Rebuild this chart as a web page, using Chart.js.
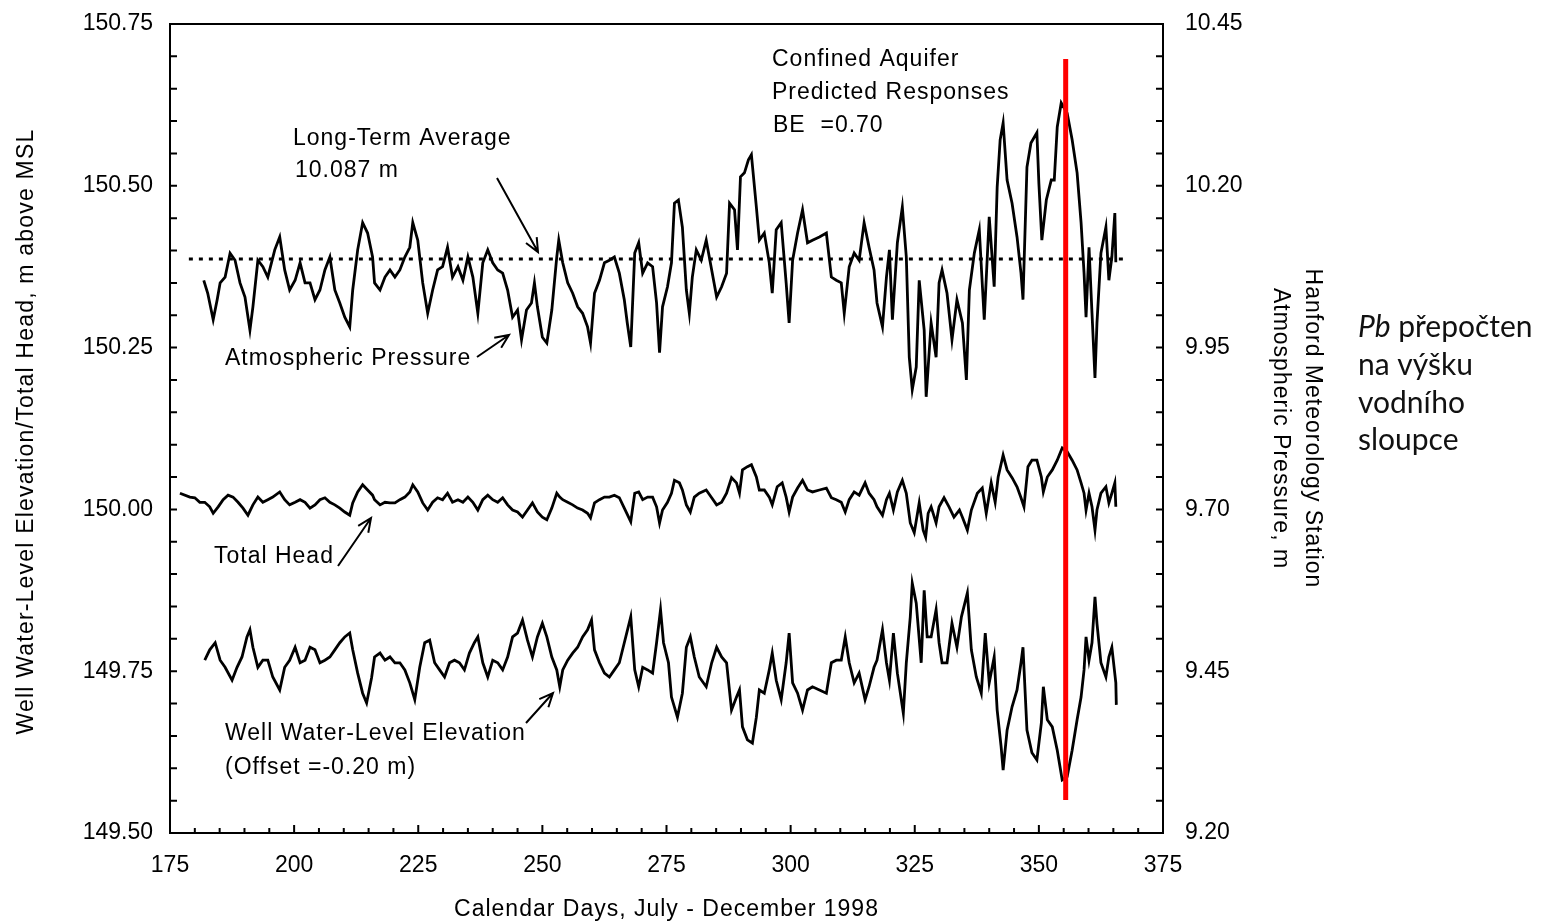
<!DOCTYPE html>
<html>
<head>
<meta charset="utf-8">
<script src="https://cdn.jsdelivr.net/npm/chart.js@4.4.0/dist/chart.umd.min.js"></script>
<style>
  html, body { margin: 0; padding: 0; background: #fff; }
  #wrap { width: 1547px; height: 923px; position: relative; }
</style>
</head>
<body>
<div id="wrap"><canvas id="wellChart"></canvas></div>
<script>
// Hanford atmospheric pressure, m of water (right axis)
var pressureDays = [181.8,182.6,183.7,184.5,185.1,186.1,187.1,188.1,189.1,190.1,191.1,191.7,192.7,193.7,194.7,196.1,197.1,198.1,199.1,200.2,
  201.2,202.2,203.2,204.2,205.2,206.2,207.2,208.2,209.2,210.2,211.2,211.8,212.8,213.8,214.8,215.8,216.2,217.3,218.3,219.3,
  220.3,221.3,222.3,223.3,223.9,224.9,225.9,226.9,227.9,228.9,229.9,230.9,231.9,233.0,234.0,235.0,236.0,237.0,238.0,239.0,
  240.0,241.0,242.0,243.0,244.0,245.0,245.8,246.8,247.8,248.4,249.0,250.0,250.9,251.9,252.9,253.3,254.1,255.1,256.1,257.1,
  258.1,259.1,259.7,260.5,261.5,262.5,263.5,264.5,265.5,266.5,267.1,267.8,268.6,269.4,270.2,271.2,272.2,273.0,273.6,274.2,
  275.2,276.0,276.6,277.4,278.2,279.0,279.6,280.2,281.0,282.0,283.0,284.1,285.1,286.1,287.1,287.7,288.7,289.3,289.9,290.7,
  291.5,292.1,293.1,293.7,294.7,295.7,296.3,297.1,298.1,299.1,299.7,300.4,301.4,302.4,303.4,304.4,305.8,307.2,308.2,309.2,
  310.2,310.8,311.8,312.8,313.8,314.8,315.8,316.8,317.4,318.5,319.3,319.9,320.5,321.5,322.5,323.3,323.9,324.5,325.3,325.9,
  326.9,327.3,328.3,329.3,329.9,330.5,331.5,332.5,333.5,334.6,335.4,336.0,337.0,338.0,339.0,340.0,341.0,341.6,342.2,342.8,
  343.6,344.6,345.6,346.4,346.8,347.6,348.4,349.6,350.0,350.6,351.5,352.5,353.1,353.7,354.5,355.7,356.7,357.7,358.5,359.1,
  359.5,360.1,360.7,361.3,361.7,362.5,363.5,364.1,364.7,365.3,365.5];
var pressureValues = [10.054,10.034,9.993,10.024,10.050,10.059,10.096,10.085,10.050,10.028,9.977,10.013,10.085,10.075,10.059,10.101,10.121,10.070,10.039,10.054,
  10.081,10.050,10.050,10.024,10.039,10.070,10.090,10.039,10.019,9.997,9.982,10.039,10.101,10.143,10.127,10.090,10.050,10.039,10.059,10.070,
  10.059,10.070,10.090,10.105,10.143,10.116,10.050,10.003,10.039,10.070,10.075,10.105,10.059,10.075,10.054,10.090,10.059,10.003,10.081,10.101,
  10.081,10.070,10.065,10.039,9.997,10.008,9.962,10.008,10.019,10.050,10.013,9.966,9.957,10.008,10.090,10.116,10.081,10.050,10.034,10.013,
  10.003,9.982,9.957,10.034,10.054,10.081,10.085,10.090,10.065,10.024,9.988,9.951,10.096,10.112,10.065,10.081,10.075,10.019,9.942,10.013,
  10.044,10.081,10.173,10.178,10.136,10.039,10.003,10.059,10.101,10.085,10.116,10.070,10.028,10.044,10.065,10.173,10.163,10.101,10.214,10.220,
  10.240,10.248,10.167,10.116,10.127,10.081,10.034,10.132,10.143,10.050,9.988,10.085,10.127,10.163,10.112,10.116,10.121,10.127,10.059,10.054,
  10.050,10.003,10.075,10.096,10.085,10.143,10.105,10.070,10.019,9.982,10.059,10.101,9.993,10.112,10.167,10.090,9.935,9.885,9.920,10.054,
  9.977,9.874,9.988,9.935,10.050,10.070,10.034,9.962,10.024,9.988,9.900,10.039,10.096,10.132,9.993,10.152,10.044,10.198,10.271,10.297,
  10.209,10.173,10.121,10.065,10.024,10.229,10.266,10.282,10.204,10.116,10.178,10.209,10.209,10.291,10.328,10.312,10.271,10.220,10.143,10.065,
  9.997,10.105,10.003,9.903,9.988,10.096,10.136,10.054,10.090,10.158,10.082];

// total head, m above MSL (left axis)
var headDays = [177.0,179.0,180.0,181.0,182.0,183.0,183.7,184.7,185.7,186.7,187.7,188.7,189.7,190.7,191.7,192.7,193.7,194.7,195.7,197.1,
  198.1,199.1,200.2,201.2,202.2,203.2,204.2,205.2,206.2,207.2,208.2,209.2,210.2,211.2,211.8,212.8,213.8,214.8,215.8,216.2,
  217.3,218.3,219.3,220.3,221.3,222.3,223.3,223.9,224.9,225.9,226.9,227.9,228.9,229.9,230.9,231.9,233.0,234.0,235.0,236.0,
  237.0,238.0,239.0,240.0,241.0,242.0,243.0,244.0,245.0,246.0,247.0,248.0,249.0,250.0,250.9,251.9,252.9,253.5,254.1,255.1,
  256.1,257.1,258.1,259.1,259.7,260.5,261.5,262.5,263.5,264.5,265.5,266.5,267.8,268.6,269.4,270.2,271.2,272.2,273.0,273.6,
  274.2,275.2,276.0,276.6,277.6,278.2,279.0,279.8,280.6,281.6,283.0,284.1,285.1,286.1,287.1,288.1,289.1,289.7,290.3,291.3,
  292.1,293.1,293.7,294.7,295.7,296.3,297.3,298.3,299.1,299.7,300.4,301.4,302.4,303.4,304.4,305.8,307.2,308.2,309.2,310.2,
  311.0,311.8,312.8,313.8,315.0,315.8,316.8,317.4,318.5,319.3,319.9,320.7,321.5,322.5,323.3,324.1,324.9,325.9,326.7,327.2,
  327.7,328.3,329.3,329.9,330.9,331.9,332.9,334.0,334.6,335.6,336.4,337.6,338.6,339.4,340.4,341.2,341.8,342.8,343.6,344.6,
  345.6,346.4,347.0,347.8,348.6,349.6,350.5,350.9,351.7,352.7,353.7,354.7,355.7,356.7,357.7,358.5,359.1,359.5,360.1,360.7,
  361.3,361.7,362.5,363.5,364.1,364.7,365.3,365.5];
var headValues = [150.025,150.019,150.018,150.011,150.011,150.004,149.994,150.004,150.015,150.022,150.019,150.011,150.002,149.991,150.007,150.019,150.011,150.015,150.019,150.027,
  150.015,150.007,150.011,150.015,150.011,150.002,150.007,150.015,150.018,150.011,150.007,150.002,149.996,149.991,150.010,150.027,150.038,150.030,150.022,150.015,
  150.007,150.011,150.010,150.010,150.015,150.019,150.027,150.038,150.027,150.010,149.999,150.011,150.018,150.015,150.025,150.011,150.015,150.011,150.019,150.011,
  149.999,150.015,150.022,150.015,150.011,150.018,150.007,149.999,149.996,149.988,149.999,150.010,149.996,149.988,149.984,150.002,150.025,150.019,150.015,150.011,
  150.007,150.002,149.999,149.994,149.987,150.010,150.015,150.019,150.019,150.022,150.018,150.002,149.981,150.025,150.027,150.015,150.019,150.019,150.004,149.979,
  149.999,150.011,150.025,150.045,150.041,150.030,150.007,149.996,150.019,150.025,150.030,150.018,150.007,150.011,150.025,150.049,150.041,150.025,150.061,150.066,
  150.069,150.050,150.030,150.030,150.019,150.007,150.035,150.041,150.019,149.996,150.019,150.033,150.045,150.030,150.027,150.030,150.033,150.018,150.015,150.011,
  149.996,150.015,150.027,150.022,150.041,150.025,150.015,150.004,149.991,150.015,150.025,149.999,150.027,150.045,150.025,149.979,149.964,150.010,149.968,149.957,
  149.994,150.004,149.979,150.004,150.018,150.004,149.988,149.999,149.988,149.968,149.999,150.025,150.033,149.994,150.041,150.011,150.050,150.084,150.061,150.049,
  150.035,150.018,150.004,150.066,150.076,150.076,150.050,150.027,150.050,150.061,150.076,150.095,150.089,150.076,150.061,150.041,150.025,149.999,150.025,150.004,
  149.968,149.999,150.025,150.035,150.010,150.025,150.041,150.004];

// well water-level elevation, offset -0.20 m (left axis)
var wellDays = [182.0,183.0,184.1,185.1,186.1,187.5,188.5,189.5,190.5,191.1,191.7,192.7,193.7,194.7,195.7,197.1,198.1,199.1,200.2,201.2,
  202.2,203.2,204.2,205.2,206.2,207.2,208.2,209.2,210.2,211.2,211.8,212.8,213.8,214.6,215.6,216.2,217.3,218.3,219.3,220.3,
  221.3,222.3,223.3,224.3,225.3,226.3,227.3,228.3,229.3,230.3,231.3,232.3,233.3,234.3,235.3,236.3,237.0,238.0,239.0,240.0,
  241.0,242.0,243.0,244.0,245.0,246.0,247.0,248.0,249.0,250.0,250.9,251.9,252.9,253.5,254.1,255.1,256.1,257.1,258.1,259.1,
  259.9,260.5,261.5,262.5,263.5,264.5,265.5,266.5,267.8,268.6,269.4,270.2,271.2,272.2,273.0,273.8,274.4,275.4,276.0,277.2,
  278.2,279.0,279.8,280.6,281.6,283.0,284.1,285.1,286.1,287.1,288.1,289.1,289.7,290.3,291.3,292.3,293.1,293.7,294.7,295.7,
  296.3,297.1,298.1,299.1,299.7,300.4,301.4,302.4,303.4,304.4,305.8,307.2,308.2,309.2,310.2,311.0,311.8,312.8,313.8,315.0,
  315.8,316.8,317.4,318.5,319.3,319.9,320.7,321.5,322.7,323.3,324.1,324.5,325.3,326.3,326.9,327.5,328.3,329.3,329.9,330.5,
  331.5,332.5,333.5,334.4,335.6,336.4,337.4,338.4,339.2,340.0,341.0,341.6,342.4,342.8,343.6,344.6,345.6,346.4,346.8,347.6,
  348.6,349.6,350.5,350.9,351.7,352.7,353.7,354.7,355.7,356.7,357.7,358.5,359.1,359.5,360.1,360.7,361.3,361.7,362.5,363.5,
  364.1,364.7,365.5,365.6];
var wellValues = [149.767,149.783,149.794,149.767,149.756,149.736,149.756,149.772,149.803,149.814,149.787,149.756,149.767,149.767,149.741,149.721,149.756,149.767,149.787,149.763,
  149.767,149.787,149.783,149.763,149.767,149.772,149.783,149.794,149.803,149.809,149.783,149.747,149.716,149.701,149.740,149.772,149.778,149.767,149.772,149.763,
  149.763,149.752,149.732,149.706,149.756,149.794,149.798,149.763,149.752,149.741,149.763,149.767,149.763,149.752,149.778,149.794,149.803,149.763,149.741,149.767,
  149.763,149.752,149.772,149.803,149.809,149.829,149.798,149.772,149.803,149.824,149.803,149.772,149.752,149.726,149.752,149.767,149.778,149.787,149.803,149.814,
  149.829,149.783,149.763,149.747,149.741,149.752,149.763,149.794,149.834,149.752,149.726,149.756,149.752,149.747,149.794,149.845,149.794,149.763,149.710,149.679,
  149.716,149.787,149.803,149.772,149.741,149.726,149.763,149.787,149.772,149.763,149.690,149.710,149.721,149.664,149.644,149.639,149.679,149.721,149.716,149.752,
  149.778,149.736,149.706,149.763,149.809,149.732,149.716,149.690,149.721,149.726,149.721,149.716,149.763,149.767,149.767,149.803,149.763,149.732,149.747,149.706,
  149.726,149.756,149.767,149.814,149.763,149.736,149.809,149.747,149.685,149.763,149.834,149.886,149.855,149.763,149.875,149.803,149.803,149.845,149.794,149.763,
  149.763,149.824,149.787,149.834,149.871,149.783,149.741,149.716,149.809,149.732,149.772,149.690,149.633,149.597,149.659,149.695,149.721,149.763,149.787,149.659,
  149.624,149.613,149.670,149.726,149.675,149.664,149.628,149.582,149.587,149.628,149.675,149.710,149.752,149.803,149.767,149.794,149.865,149.824,149.763,149.741,
  149.772,149.787,149.732,149.698];

// long-term average pressure and the marked day
var averageDays = [178.8, 367.6];
var averagePressure = 10.087;
var markerDay = 355.4;
var markerLevels = [150.696, 149.551];

var xTicks = [175, 200, 225, 250, 275, 300, 325, 350, 375];
var leftTicks = [149.50, 149.75, 150.00, 150.25, 150.50, 150.75];
var rightTicks = [9.20, 9.45, 9.70, 9.95, 10.20, 10.45];

var FONT = '"Liberation Sans", Arial, Helvetica, sans-serif';
Chart.defaults.font.family = FONT;
Chart.defaults.color = '#000';

function pairs(days, vals) {
    return days.map(function (d, i) { return { x: d, y: vals[i] }; });
}

function arrow(ctx, x1, y1, x2, y2) {
    var ang = Math.atan2(y2 - y1, x2 - x1), h = 15;
    ctx.beginPath();
    ctx.moveTo(x1, y1);
    ctx.lineTo(x2, y2);
    ctx.moveTo(x2 - h * Math.cos(ang - 0.42), y2 - h * Math.sin(ang - 0.42));
    ctx.lineTo(x2, y2);
    ctx.lineTo(x2 - h * Math.cos(ang + 0.42), y2 - h * Math.sin(ang + 0.42));
    ctx.stroke();
}

var decor = {
    id: 'decor',
    afterDraw: function (chart) {
        var ctx = chart.ctx, a = chart.chartArea;
        var xs = chart.scales.x, ys = chart.scales.y;
        ctx.save();
        ctx.strokeStyle = '#000';
        ctx.fillStyle = '#000';
        ctx.lineWidth = 2;

        // top of the frame
        ctx.beginPath();
        ctx.moveTo(a.left - 1, a.top);
        ctx.lineTo(a.right + 1, a.top);
        ctx.stroke();

        // inward tick marks
        ctx.beginPath();
        for (var i = 0; i < xTicks.length - 1; i++) {
            for (var k = 0; k < 5; k++) {
                var d = xTicks[i] + k * (xTicks[i + 1] - xTicks[i]) / 5;
                var px = xs.getPixelForValue(d);
                ctx.moveTo(px, a.bottom);
                ctx.lineTo(px, a.bottom - (k === 0 ? 8 : 5));
            }
        }
        for (i = 0; i < leftTicks.length - 1; i++) {
            for (k = 0; k < 5; k++) {
                var v = leftTicks[i] + k * (leftTicks[i + 1] - leftTicks[i]) / 5;
                var py = ys.getPixelForValue(v);
                ctx.moveTo(a.left, py); ctx.lineTo(a.left + 7, py);
                ctx.moveTo(a.right, py); ctx.lineTo(a.right - 7, py);
            }
        }
        ctx.stroke();

        // annotations
        ctx.font = '23px ' + FONT;
        ctx.letterSpacing = '1px';
        ctx.textBaseline = 'middle';
        ctx.textAlign = 'left';
        ctx.fillText('Confined Aquifer', 772, 60);
        ctx.fillText('Predicted Responses', 772, 93);
        ctx.fillText('BE  =0.70', 773, 126);
        ctx.fillText('Long-Term Average', 293, 139);
        ctx.fillText('10.087 m', 295, 171);
        ctx.fillText('Atmospheric Pressure', 225, 359);
        ctx.fillText('Total Head', 214, 557);
        ctx.fillText('Well Water-Level Elevation', 225, 734);
        ctx.fillText('(Offset =-0.20 m)', 225, 768);

        ctx.lineWidth = 2;
        arrow(ctx, 497, 178, 538, 252);
        arrow(ctx, 477, 357, 509, 335);
        arrow(ctx, 338, 566, 371, 518);
        arrow(ctx, 526, 723, 553, 693);

        // axis titles
        ctx.textAlign = 'center';
        ctx.fillText('Calendar Days, July - December 1998', (a.left + a.right) / 2, 910);

        ctx.save();
        ctx.translate(27, (a.top + a.bottom) / 2 + 3);
        ctx.rotate(-Math.PI / 2);
        ctx.letterSpacing = '1.2px';
        ctx.fillText('Well Water-Level Elevation/Total Head, m above MSL', 0, 0);
        ctx.restore();

        ctx.save();
        ctx.translate(1312, (a.top + a.bottom) / 2);
        ctx.rotate(Math.PI / 2);
        ctx.fillText('Hanford Meteorology Station', 0, 0);
        ctx.fillText('Atmospheric Pressure, m', 0, 32);
        ctx.restore();

        // side note
        ctx.letterSpacing = '0px';
        ctx.textAlign = 'left';
        ctx.fillStyle = '#111';
        ctx.font = 'italic 30px Lato, "Open Sans", sans-serif';
        ctx.fillText('Pb', 1358, 327);
        var w = ctx.measureText('Pb').width;
        ctx.font = '30px Lato, "Open Sans", sans-serif';
        ctx.fillText(' přepočten', 1358 + w, 327);
        ctx.fillText('na výšku', 1358, 365);
        ctx.fillText('vodního', 1358, 403);
        ctx.fillText('sloupce', 1358, 440);
        ctx.restore();
    }
};

var lineStyle = { borderColor: '#000', borderWidth: 2.8, pointRadius: 0, tension: 0, fill: false };

function noPadY(s, width) { s.width = width; s.paddingTop = 0; s.paddingBottom = 0; }

new Chart(document.getElementById('wellChart').getContext('2d'), {
    type: 'line',
    data: {
        datasets: [
            { data: [{ x: markerDay, y: markerLevels[0] }, { x: markerDay, y: markerLevels[1] }],
              yAxisID: 'y', borderColor: '#ff0000', borderWidth: 5, pointRadius: 0, borderCapStyle: 'butt' },
            Object.assign({ data: pairs(pressureDays, pressureValues), yAxisID: 'y2' }, lineStyle),
            Object.assign({ data: pairs(headDays, headValues), yAxisID: 'y' }, lineStyle),
            Object.assign({ data: pairs(wellDays, wellValues), yAxisID: 'y' }, lineStyle),
            { data: averageDays.map(function (d) { return { x: d, y: averagePressure }; }),
              yAxisID: 'y2', borderColor: '#000', borderWidth: 3, borderDash: [4, 6], pointRadius: 0 }
        ]
    },
    options: {
        responsive: true,
        maintainAspectRatio: false,
        animation: false,
        events: [],
        layout: { padding: { top: 24, left: 0, right: 0, bottom: 0 } },
        plugins: { legend: { display: false }, tooltip: { enabled: false } },
        scales: {
            x: {
                type: 'linear', min: 175, max: 375,
                grid: { display: false, drawTicks: false },
                border: { display: true, color: '#000', width: 2 },
                ticks: { font: { size: 23 }, padding: 19, maxRotation: 0 },
                afterBuildTicks: function (s) { s.ticks = xTicks.map(function (v) { return { value: v }; }); },
                afterFit: function (s) { s.height = 90; s.paddingLeft = 0; s.paddingRight = 0; }
            },
            y: {
                position: 'left', min: 149.5, max: 150.75,
                grid: { display: false, drawTicks: false },
                border: { display: true, color: '#000', width: 2 },
                ticks: { font: { size: 23 }, padding: 17, callback: function (v) { return v.toFixed(2); } },
                afterBuildTicks: function (s) { s.ticks = leftTicks.map(function (v) { return { value: v }; }); },
                afterFit: function (s) { noPadY(s, 170); }
            },
            y2: {
                position: 'right', min: 9.2, max: 10.45,
                grid: { display: false, drawTicks: false },
                border: { display: true, color: '#000', width: 2 },
                ticks: { font: { size: 23 }, padding: 22, callback: function (v) { return v.toFixed(2); } },
                afterBuildTicks: function (s) { s.ticks = rightTicks.map(function (v) { return { value: v }; }); },
                afterFit: function (s) { noPadY(s, 384); }
            }
        }
    },
    plugins: [decor]
});
</script>
</body>
</html>
